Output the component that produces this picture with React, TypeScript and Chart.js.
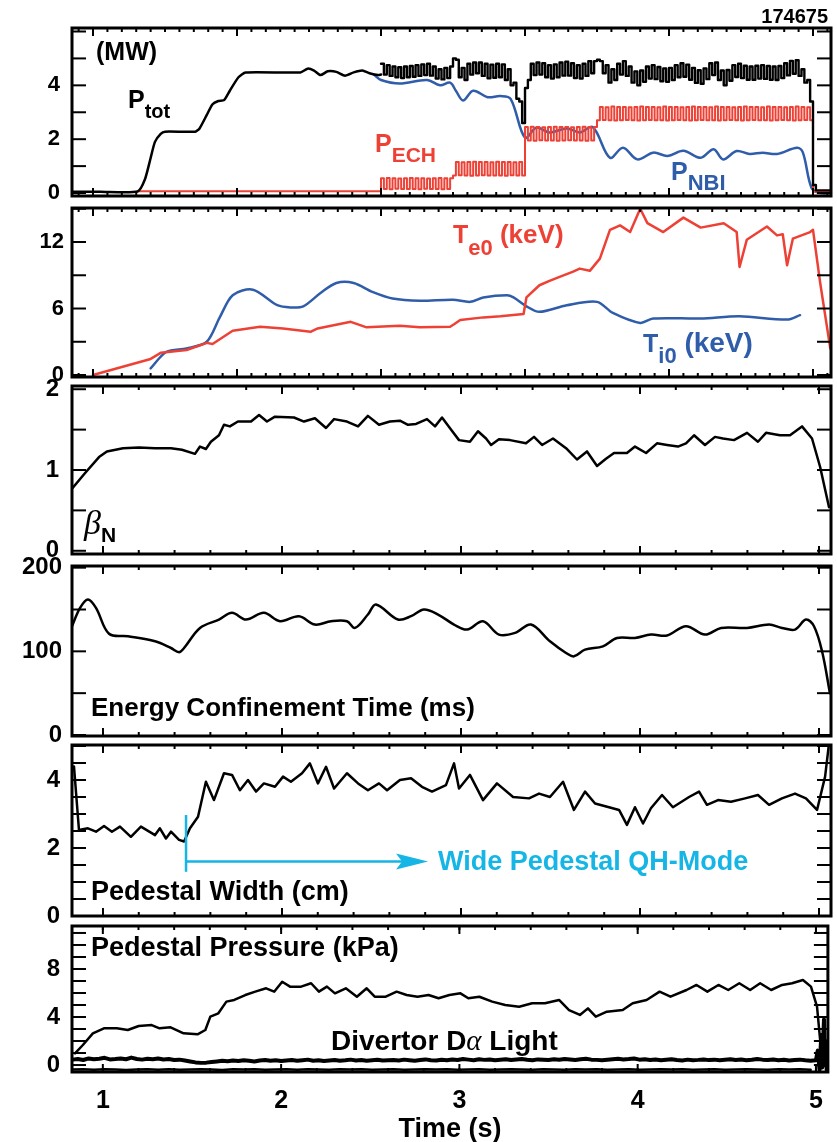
import React, { useEffect, useRef } from "react";
import { Chart, registerables } from "chart.js";
Chart.register(...registerables);

const SANS = "'Liberation Sans', Arial, Helvetica, sans-serif";
const SERIF = "'Liberation Serif', 'Times New Roman', serif";
const BLACK = "#000000";
const RED = "#EE4136";
const BLUE = "#2F5DAA";
const CYAN = "#15B5E5";

// ---------------- Panel 1 : powers (MW), time axis of the upper plot ----------------
const PTOT_PRE_T = [-0.14, 0.05, 0.31, 0.36, 0.40, 0.43, 0.47, 0.50, 0.71, 0.74, 0.79, 0.83, 0.87, 0.91, 0.95, 1.01, 1.06, 1.44, 1.49, 1.535, 1.58, 1.63, 1.69, 1.75, 1.81, 1.87, 1.92, 1.98, 2.0];
const PTOT_PRE = [0.05, 0.05, 0.06, 0.5, 1.3, 1.9, 2.2, 2.28, 2.28, 2.4, 2.9, 3.3, 3.42, 3.45, 3.8, 4.3, 4.48, 4.48, 4.62, 4.55, 4.38, 4.52, 4.5, 4.36, 4.48, 4.55, 4.45, 4.38, 4.4];
// modulated part (ECH square-wave modulation), sampled every MOD_DT from MOD_T0
const MOD_T0 = 2.0;
const MOD_DT = 0.02;
const PTOT_MOD = [
  4.8, 4.4, 4.75, 4.35, 4.7, 4.3, 4.67, 4.27, 4.7, 4.3, 4.72, 4.32, 4.75, 4.35, 4.78, 4.38, 4.8, 4.36, 4.7, 4.25, 4.6, 4.22, 4.65, 4.27, 4.7,
  5.0, 4.95, 4.3, 4.65, 4.2, 4.8, 4.4, 4.85, 4.45, 4.85, 4.35, 4.8, 4.26, 4.77, 4.28, 4.8, 4.3, 4.78, 4.2, 4.6, 4.0, 4.1, 3.5, 3.4, 2.6,
  3.9, 4.2, 4.8, 4.38, 4.85, 4.4, 4.82, 4.3, 4.75, 4.25, 4.78, 4.3, 4.85, 4.36, 4.88, 4.36, 4.82, 4.27, 4.75, 4.25, 4.8, 4.35, 4.9, 4.45, 4.9,
  4.95, 4.9, 4.45, 4.75, 4.1, 4.6, 4.2, 4.8, 4.4, 4.9, 4.35, 4.7, 4.1, 4.52, 4.0, 4.55, 4.13, 4.7, 4.25, 4.75, 4.23, 4.68, 4.15, 4.63, 4.13,
  4.65, 4.2, 4.75, 4.3, 4.82, 4.32, 4.77, 4.21, 4.65, 4.09, 4.56, 4.06, 4.63, 4.23, 4.82, 4.38, 4.85, 4.2, 4.55, 4.0, 4.57, 4.17, 4.75, 4.31, 4.8,
  4.27, 4.73, 4.21, 4.7, 4.21, 4.73, 4.25, 4.75, 4.24, 4.72, 4.21, 4.7, 4.2, 4.72, 4.27, 4.82, 4.37, 4.91, 4.43, 4.93, 4.35, 4.6, 4.1, 4.2, 3.4,
];
const PTOT_END_T = [5.0, 5.02, 5.125];
const PTOT_END = [0.3, 0.1, 0.1];

const ECH_PRE_T = [0.31];
const ECH_PRE = [0.07];
const ECH_MOD = [
  0.55, 0.15, 0.56, 0.14, 0.55, 0.16, 0.54, 0.15, 0.55, 0.15, 0.56, 0.15, 0.55, 0.14, 0.55, 0.16, 0.54, 0.15, 0.55, 0.15, 0.56, 0.14, 0.55, 0.15, 0.55,
  0.65, 1.15, 0.66, 1.14, 0.65, 1.15, 0.64, 1.16, 0.65, 1.15, 0.66, 1.15, 0.65, 1.14, 0.65, 1.16, 0.65, 1.15, 0.64, 1.15, 0.66, 1.14, 0.65, 1.15, 0.65,
  2.45, 1.95, 2.46, 1.94, 2.45, 1.96, 2.44, 1.95, 2.45, 1.95, 2.46, 1.94, 2.45, 1.95, 2.45, 1.96, 2.44, 1.95, 2.45, 1.95, 2.46, 1.94, 2.45, 1.95, 2.45,
  2.70, 3.20, 2.71, 3.19, 2.70, 3.21, 2.69, 3.20, 2.70, 3.20,
  2.71, 3.19, 2.70, 3.20, 2.69, 3.21, 2.70, 3.20, 2.71, 3.20,
  2.70, 3.19, 2.70, 3.21, 2.69, 3.20, 2.70, 3.20, 2.71, 3.19,
  2.70, 3.20, 2.69, 3.21, 2.70, 3.20, 2.71, 3.20, 2.70, 3.19,
  2.70, 3.21, 2.69, 3.20, 2.70, 3.20, 2.71, 3.19, 2.70, 3.20,
  2.69, 3.21, 2.70, 3.20, 2.71, 3.20, 2.70, 3.19, 2.70, 3.21,
  2.69, 3.20, 2.70, 3.20, 2.71, 3.19, 2.70, 3.20, 2.69, 3.21,
  2.70, 3.20, 2.71, 3.19, 2.70,
];
const ECH_END_T = [5.0, 5.125];
const ECH_END = [0.05, 0.05];

const PNBI_T = [1.95, 2.0, 2.13, 2.32, 2.41, 2.48, 2.52, 2.57, 2.64, 2.74, 2.83, 2.9, 3.0, 3.08, 3.17, 3.29, 3.38, 3.47, 3.59, 3.68, 3.78, 3.89, 3.99, 4.1, 4.22, 4.31, 4.375, 4.47, 4.56, 4.65, 4.75, 4.89, 4.93, 4.99, 5.05, 5.125];
const PNBI = [4.4, 4.2, 4.07, 4.2, 4.0, 4.1, 3.8, 3.44, 3.8, 3.56, 3.6, 3.5, 2.06, 2.43, 2.25, 2.4, 2.25, 2.45, 1.31, 1.68, 1.25, 1.5, 1.38, 1.57, 1.31, 1.63, 1.25, 1.56, 1.45, 1.5, 1.45, 1.68, 1.5, 0.19, 0.0, 0.0];

// ---------------- Panel 2 : central temperatures (keV) ----------------
const TE_T = [0.0, 0.40, 0.47, 0.65, 0.79, 0.83, 0.97, 1.16, 1.32, 1.51, 1.56, 1.79, 1.90, 2.13, 2.27, 2.48, 2.51, 2.55, 2.71, 2.83, 2.90, 2.99, 3.01, 3.10, 3.17, 3.24, 3.33, 3.38, 3.45, 3.52, 3.59, 3.66, 3.73, 3.80, 3.85, 3.96, 4.10, 4.22, 4.38, 4.47, 4.49, 4.54, 4.68, 4.75, 4.79, 4.82, 4.86, 4.98, 5.0, 5.05, 5.12];
const TE = [0.0, 1.45, 2.0, 2.26, 2.9, 2.8, 4.0, 4.35, 4.2, 3.9, 4.2, 4.8, 4.3, 4.45, 4.3, 4.35, 4.6, 4.96, 5.2, 5.3, 5.4, 5.5, 7.0, 8.1, 8.5, 8.85, 9.3, 9.6, 9.4, 10.5, 13.1, 13.5, 12.9, 15.0, 13.7, 12.9, 14.2, 13.3, 13.7, 12.9, 9.75, 12.2, 13.4, 12.6, 12.7, 9.9, 12.3, 12.9, 13.1, 8.3, 2.4];
const TI_T = [0.40, 0.51, 0.65, 0.79, 0.88, 0.97, 1.11, 1.28, 1.37, 1.46, 1.58, 1.69, 1.81, 1.94, 2.08, 2.27, 2.5, 2.62, 2.71, 2.875, 2.92, 3.01, 3.10, 3.29, 3.5, 3.61, 3.80, 3.89, 4.22, 4.49, 4.82, 4.91];
const TI = [0.6, 2.1, 2.4, 3.0, 5.2, 7.2, 7.7, 6.3, 6.1, 6.2, 7.4, 8.3, 8.3, 7.5, 6.9, 6.7, 6.8, 6.6, 7.0, 7.2, 7.0, 6.2, 5.7, 6.3, 6.6, 5.6, 4.7, 5.1, 5.1, 5.3, 5.0, 5.4];

// ---------------- Panel 3 : beta_N ----------------
const BETA_T = [0.827, 0.899, 0.978, 1.022, 1.112, 1.201, 1.291, 1.380, 1.441, 1.514, 1.542, 1.575, 1.603, 1.648, 1.676, 1.709, 1.754, 1.827, 1.872, 1.916, 1.961, 2.067, 2.123, 2.184, 2.246, 2.291, 2.363, 2.425, 2.480, 2.542, 2.603, 2.659, 2.704, 2.749, 2.810, 2.855, 2.894, 2.944, 2.989, 3.050, 3.095, 3.140, 3.168, 3.212, 3.274, 3.363, 3.408, 3.453, 3.514, 3.587, 3.648, 3.704, 3.760, 3.810, 3.855, 3.927, 3.972, 4.034, 4.095, 4.151, 4.212, 4.257, 4.302, 4.363, 4.419, 4.464, 4.525, 4.598, 4.659, 4.704, 4.782, 4.838, 4.905, 4.961, 5.006, 5.056];
const BETA = [0.77, 0.96, 1.16, 1.23, 1.27, 1.28, 1.27, 1.27, 1.25, 1.20, 1.29, 1.26, 1.35, 1.43, 1.56, 1.54, 1.60, 1.60, 1.68, 1.60, 1.66, 1.65, 1.60, 1.64, 1.52, 1.63, 1.60, 1.54, 1.67, 1.56, 1.60, 1.61, 1.56, 1.57, 1.63, 1.54, 1.65, 1.50, 1.37, 1.35, 1.48, 1.39, 1.31, 1.38, 1.37, 1.33, 1.41, 1.31, 1.39, 1.27, 1.13, 1.23, 1.05, 1.14, 1.21, 1.21, 1.29, 1.21, 1.33, 1.31, 1.29, 1.33, 1.43, 1.31, 1.41, 1.39, 1.37, 1.46, 1.35, 1.46, 1.43, 1.43, 1.54, 1.39, 1.04, 0.54];

// ---------------- Panel 4 : energy confinement time (ms) ----------------
const TAU_T = [0.827, 0.872, 0.916, 0.961, 1.034, 1.140, 1.291, 1.380, 1.425, 1.453, 1.542, 1.648, 1.721, 1.799, 1.899, 1.989, 2.095, 2.184, 2.274, 2.363, 2.408, 2.480, 2.525, 2.648, 2.721, 2.793, 2.872, 2.961, 3.034, 3.123, 3.212, 3.302, 3.391, 3.497, 3.587, 3.631, 3.693, 3.793, 3.872, 3.972, 4.061, 4.151, 4.257, 4.363, 4.453, 4.598, 4.721, 4.793, 4.866, 4.927, 4.972, 5.017, 5.061];
const TAU = [130, 152, 162, 152, 121, 118, 112, 104, 99, 104, 128, 138, 146, 138, 146, 136, 142, 132, 136, 136, 128, 144, 156, 138, 142, 150, 144, 132, 126, 136, 120, 122, 132, 112, 98, 94, 102, 106, 116, 116, 120, 119, 130, 120, 128, 128, 132, 128, 126, 138, 130, 100, 50];

// ---------------- Panel 5 : pedestal width (cm) ----------------
const PW_T = [0.838, 0.866, 0.916, 0.961, 1.006, 1.050, 1.095, 1.156, 1.212, 1.291, 1.318, 1.352, 1.380, 1.425, 1.453, 1.486, 1.531, 1.575, 1.620, 1.676, 1.721, 1.765, 1.810, 1.855, 1.899, 1.961, 2.006, 2.050, 2.112, 2.156, 2.201, 2.246, 2.291, 2.363, 2.425, 2.480, 2.542, 2.587, 2.659, 2.721, 2.782, 2.838, 2.916, 2.961, 2.989, 3.050, 3.123, 3.201, 3.291, 3.380, 3.436, 3.497, 3.570, 3.631, 3.693, 3.749, 3.827, 3.883, 3.927, 3.972, 4.017, 4.061, 4.123, 4.184, 4.274, 4.330, 4.374, 4.436, 4.508, 4.587, 4.659, 4.721, 4.793, 4.866, 4.927, 4.989, 5.034, 5.061];
const PW = [4.4, 2.53, 2.58, 2.48, 2.65, 2.48, 2.63, 2.33, 2.63, 2.38, 2.58, 2.28, 2.48, 2.24, 2.19, 2.58, 2.92, 3.95, 3.41, 4.2, 4.15, 3.7, 4.0, 3.66, 3.9, 3.8, 4.1, 3.95, 4.2, 4.49, 3.9, 4.39, 3.75, 4.2, 3.9, 3.7, 3.9, 3.7, 4.0, 4.05, 3.8, 3.66, 3.85, 4.49, 3.75, 4.15, 3.41, 3.9, 3.5, 3.46, 3.6, 3.5, 3.95, 3.12, 3.66, 3.31, 3.2, 3.12, 2.68, 3.2, 2.72, 3.17, 3.56, 3.2, 3.5, 3.66, 3.27, 3.41, 3.36, 3.46, 3.56, 3.27, 3.46, 3.6, 3.46, 3.12, 4.1, 5.3];
const QH_START = 1.464;
const QH_BAR = [1.3, 2.97];
const QH_ARROW_Y = 1.6;
const QH_ARROW_END = 2.816;

// ---------------- Panel 6 : pedestal pressure (kPa) and divertor D-alpha ----------------
const PP_T = [0.844, 0.888, 0.944, 1.006, 1.078, 1.140, 1.201, 1.274, 1.318, 1.380, 1.453, 1.531, 1.575, 1.603, 1.648, 1.693, 1.737, 1.799, 1.855, 1.916, 1.961, 2.006, 2.050, 2.112, 2.168, 2.212, 2.257, 2.302, 2.363, 2.425, 2.480, 2.525, 2.587, 2.648, 2.704, 2.765, 2.827, 2.883, 2.944, 3.006, 3.050, 3.112, 3.184, 3.257, 3.335, 3.408, 3.480, 3.559, 3.615, 3.676, 3.721, 3.765, 3.827, 3.916, 3.972, 4.050, 4.123, 4.184, 4.274, 4.330, 4.391, 4.453, 4.508, 4.570, 4.631, 4.687, 4.749, 4.810, 4.866, 4.927, 4.972, 5.006, 5.034];
const PP = [0.97, 1.67, 2.64, 3.06, 3.06, 2.92, 3.25, 3.33, 3.06, 3.14, 2.64, 2.56, 2.92, 4.03, 4.31, 5.28, 5.42, 5.83, 6.11, 6.39, 6.11, 6.94, 6.53, 6.53, 6.81, 6.11, 6.53, 5.97, 6.39, 5.69, 6.39, 5.69, 5.69, 6.11, 5.83, 5.69, 5.83, 5.56, 5.83, 5.97, 5.56, 5.69, 5.28, 5.0, 4.86, 5.14, 5.14, 5.42, 4.58, 4.17, 4.72, 4.03, 4.44, 4.58, 5.14, 5.42, 6.11, 5.69, 6.25, 6.67, 6.11, 6.67, 6.25, 6.81, 6.25, 6.81, 6.25, 6.67, 6.81, 7.08, 6.53, 4.86, 0.42];
// D-alpha: upper and lower edges of the dense noisy trace
const DA_T0 = 0.83;
const DA_UP_DT = 0.03;
const DA_UP = [
  0.45, 0.5, 0.42, 0.55, 0.48, 0.52, 0.6, 0.47, 0.5, 0.55,
  0.48, 0.62, 0.5, 0.45, 0.52, 0.48, 0.55, 0.46, 0.5, 0.42,
  0.45, 0.38, 0.3, 0.22, 0.18, 0.2, 0.25, 0.3, 0.35, 0.32,
  0.38, 0.33, 0.4, 0.35, 0.3, 0.38, 0.42, 0.35, 0.4, 0.33,
  0.38, 0.42, 0.35, 0.4, 0.45, 0.36, 0.4, 0.33, 0.38, 0.42,
  0.36, 0.4, 0.45, 0.38, 0.42, 0.35, 0.4, 0.44, 0.37, 0.4,
  0.42, 0.38, 0.45, 0.4, 0.35, 0.42, 0.47, 0.4, 0.38, 0.44,
  0.4, 0.46, 0.42, 0.5, 0.45, 0.4, 0.48, 0.43, 0.46, 0.4,
  0.44, 0.48, 0.42, 0.46, 0.5, 0.44, 0.4, 0.47, 0.45, 0.42,
  0.48, 0.44, 0.5, 0.46, 0.42, 0.48, 0.52, 0.45, 0.43, 0.4,
  0.44, 0.48, 0.52, 0.46, 0.5, 0.55, 0.45, 0.48, 0.42, 0.46,
  0.4, 0.44, 0.48, 0.42, 0.38, 0.45, 0.4, 0.43, 0.47, 0.41,
  0.45, 0.4, 0.44, 0.48, 0.42, 0.46, 0.4, 0.44, 0.5, 0.45,
  0.42, 0.46, 0.4, 0.44, 0.38, 0.42, 0.45, 0.4, 0.36, 0.4,
];
const DA_END_T = [5.01, 5.02, 5.03, 5.035, 5.045, 5.05, 5.055, 5.06, 5.067];
const DA_END = [1.2, -0.4, 2.5, -0.2, 3.8, 0.0, 2.0, -0.4, 0.3];
const DA_LO_DT = 0.06;
const DA_LO = [
  -0.38, -0.35, -0.4, -0.36, -0.38, -0.42, -0.37, -0.35, -0.39, -0.36,
  -0.4, -0.37, -0.35, -0.38, -0.41, -0.36, -0.38, -0.35, -0.4, -0.37,
  -0.36, -0.39, -0.35, -0.38, -0.4, -0.36, -0.37, -0.35, -0.39, -0.38,
  -0.36, -0.4, -0.37, -0.35, -0.38, -0.36, -0.39, -0.37, -0.35, -0.4,
  -0.38, -0.36, -0.37, -0.39, -0.35, -0.38, -0.4, -0.36, -0.37, -0.35,
  -0.39, -0.38, -0.36, -0.4, -0.37, -0.35, -0.38, -0.36, -0.39, -0.37,
  -0.35, -0.4, -0.38, -0.36, -0.37, -0.39, -0.35, -0.38, -0.36, -0.4,
];

// ---------------- axis ranges / labels ----------------
const TOP_X_MIN = -0.146, TOP_X_MAX = 5.125;
const BOT_X_MIN = 0.827, BOT_X_MAX = 5.067;
const X_LABELS = [1, 2, 3, 4, 5];

// ---------------- helpers ----------------
const pts = (t: number[], v: number[]) => t.map((x, i) => ({ x, y: v[i] }));
const grid = (t0: number, dt: number, v: number[]) => v.map((y, i) => ({ x: Math.round((t0 + dt * i) * 10000) / 10000, y }));
const range = (a: number, b: number, s: number) => {
  const out: number[] = [];
  for (let v = a; v <= b + 1e-9; v += s) out.push(Math.round(v * 1000) / 1000);
  return out;
};
const bold = (n: number) => `bold ${n}px ${SANS}`;

type Seg = { s: string; font: string; dy?: number };
type Label = { x: number; y: number; color?: string; align?: "left" | "right"; segs: Seg[] };

type PanelCfg = {
  top: number;
  bottom: number;
  cTop: number;
  cBottom: number;
  xMin: number;
  xMax: number;
  yMin: number;
  yMax: number;
  yTicks: number[];
  yLabels: number[];
  yFont: number;
  yPad: number;
  xMajor: number[];
  xMinor: number[];
  showX: boolean;
  datasets: any[];
  labels: Label[];
  extra?: (chart: any, ctx: CanvasRenderingContext2D) => void;
};

const LEFT = 72;
const RIGHT = 831;
const W = 837;

function line(ctx: CanvasRenderingContext2D, x1: number, y1: number, x2: number, y2: number) {
  ctx.beginPath();
  ctx.moveTo(x1, y1);
  ctx.lineTo(x2, y2);
  ctx.stroke();
}

function makeFrame(cfg: PanelCfg) {
  return {
    id: "frame",
    afterDraw(chart: any) {
      const ctx: CanvasRenderingContext2D = chart.ctx;
      const a = chart.chartArea;
      const xs = chart.scales.x;
      const ys = chart.scales.y;
      ctx.save();
      if (cfg.extra) cfg.extra(chart, ctx);
      ctx.strokeStyle = BLACK;
      ctx.lineWidth = 2;
      ctx.lineCap = "butt";
      for (const v of cfg.yTicks) {
        const py = ys.getPixelForValue(v);
        line(ctx, a.left, py, a.left + 14, py);
        line(ctx, a.right, py, a.right - 14, py);
      }
      for (const v of cfg.xMajor) {
        const px = xs.getPixelForValue(v);
        if (px < a.left || px > a.right) continue;
        line(ctx, px, a.top, px, a.top + 8);
        line(ctx, px, a.bottom, px, a.bottom - 8);
      }
      for (const v of cfg.xMinor) {
        const px = xs.getPixelForValue(v);
        if (px < a.left + 2 || px > a.right - 2) continue;
        line(ctx, px, a.top, px, a.top + 4);
        line(ctx, px, a.bottom, px, a.bottom - 4);
      }
      ctx.lineWidth = 3;
      ctx.strokeRect(a.left, a.top, a.right - a.left, a.bottom - a.top);
      for (const lb of cfg.labels) {
        ctx.fillStyle = lb.color || BLACK;
        ctx.textBaseline = "alphabetic";
        ctx.textAlign = "left";
        let total = 0;
        for (const sg of lb.segs) {
          ctx.font = sg.font;
          total += ctx.measureText(sg.s).width;
        }
        let x = lb.align === "right" ? lb.x - total : lb.x;
        const y = lb.y - cfg.cTop;
        for (const sg of lb.segs) {
          ctx.font = sg.font;
          ctx.fillText(sg.s, x, y + (sg.dy || 0));
          x += ctx.measureText(sg.s).width;
        }
      }
      ctx.restore();
    },
  };
}

function Panel({ cfg }: { cfg: PanelCfg }) {
  const ref = useRef<HTMLCanvasElement>(null);
  useEffect(() => {
    const canvas = ref.current!;
    const chart = new Chart(canvas, {
      type: "line",
      data: { datasets: cfg.datasets },
      options: {
        animation: false,
        responsive: false,
        maintainAspectRatio: false,
        devicePixelRatio: 1,
        events: [],
        layout: {
          padding: {
            left: 0,
            right: W - RIGHT,
            top: cfg.top - cfg.cTop,
            bottom: cfg.showX ? 0 : cfg.cBottom - cfg.bottom,
          },
        },
        plugins: { legend: { display: false }, tooltip: { enabled: false } },
        elements: { point: { radius: 0 }, line: { borderJoinStyle: "round", borderCapStyle: "round" } },
        scales: {
          x: {
            type: "linear",
            min: cfg.xMin,
            max: cfg.xMax,
            bounds: "data",
            display: cfg.showX,
            position: "bottom",
            grid: { display: false, drawTicks: false },
            border: { display: false },
            afterFit: (s: any) => {
              if (cfg.showX) s.height = cfg.cBottom - cfg.bottom;
            },
            afterBuildTicks: (s: any) => {
              s.ticks = X_LABELS.map((v) => ({ value: v }));
            },
            ticks: {
              font: { family: SANS, size: 25, weight: "bold" },
              color: BLACK,
              padding: 14,
              maxRotation: 0,
              autoSkip: false,
            },
            title: {
              display: cfg.showX,
              text: "Time (s)",
              color: BLACK,
              font: { family: SANS, size: 27, weight: "bold" },
              padding: { top: 0, bottom: -4 },
            },
          },
          y: {
            type: "linear",
            min: cfg.yMin,
            max: cfg.yMax,
            bounds: "data",
            position: "left",
            grid: {
              display: true,
              drawOnChartArea: false,
              drawTicks: true,
              tickLength: cfg.yPad,
              tickColor: "rgba(0,0,0,0)",
              color: "rgba(0,0,0,0)",
              lineWidth: 0,
            },
            border: { display: false },
            afterFit: (s: any) => {
              s.width = LEFT;
            },
            afterBuildTicks: (s: any) => {
              s.ticks = cfg.yLabels.map((v) => ({ value: v }));
            },
            ticks: {
              font: { family: SANS, size: cfg.yFont, weight: "bold" },
              color: BLACK,
              padding: 0,
              autoSkip: false,
            },
          },
        },
      },
      plugins: [makeFrame(cfg)],
    } as any);
    return () => chart.destroy();
  }, [cfg]);
  const h = cfg.cBottom - cfg.cTop;
  return (
    <canvas
      ref={ref}
      width={W}
      height={h}
      style={{ position: "absolute", left: 0, top: cfg.cTop, width: W, height: h }}
    />
  );
}

const ds = (data: any[], color: string, order: number, extra: any = {}) => ({
  data,
  borderColor: color,
  backgroundColor: color,
  borderWidth: 2.5,
  pointRadius: 0,
  fill: false,
  order,
  tension: 0,
  ...extra,
});

const TOP_MAJOR = range(0, 5, 1);
const TOP_MINOR = range(-0.1, 5.1, 0.1);
const BOT_MAJOR = range(1, 5, 1);
const BOT_MINOR = range(0.8, 5.0, 0.2);

const PANELS: PanelCfg[] = [
  {
    top: 28, bottom: 196, cTop: 0, cBottom: 216,
    xMin: TOP_X_MIN, xMax: TOP_X_MAX, yMin: -0.11, yMax: 6.13,
    yTicks: [0, 1, 2, 3, 4, 5, 6], yLabels: [0, 2, 4], yFont: 22, yPad: 12,
    xMajor: TOP_MAJOR, xMinor: TOP_MINOR, showX: false,
    datasets: [
      ds(pts(PNBI_T, PNBI), BLUE, 2, { tension: 0.35 }),
      ds([...pts(ECH_PRE_T, ECH_PRE), ...grid(MOD_T0, MOD_DT, ECH_MOD), ...pts(ECH_END_T, ECH_END)], RED, 1, { stepped: true, borderWidth: 2 }),
      ds(pts(PTOT_PRE_T, PTOT_PRE), BLACK, 0, { tension: 0.2 }),
      ds([...grid(MOD_T0, MOD_DT, PTOT_MOD), ...pts(PTOT_END_T, PTOT_END)], BLACK, 0, { stepped: true, borderWidth: 2.4 }),
    ],
    labels: [
      { x: 828, y: 23, align: "right", segs: [{ s: "174675", font: bold(20) }] },
      { x: 96, y: 60, segs: [{ s: "(MW)", font: bold(25) }] },
      { x: 128, y: 108, segs: [{ s: "P", font: bold(25) }, { s: "tot", font: bold(20), dy: 10 }] },
      { x: 375, y: 152, color: RED, segs: [{ s: "P", font: bold(25) }, { s: "ECH", font: bold(21), dy: 10 }] },
      { x: 671, y: 180, color: BLUE, segs: [{ s: "P", font: bold(25) }, { s: "NBI", font: bold(22), dy: 10 }] },
    ],
  },
  {
    top: 208, bottom: 377, cTop: 188, cBottom: 397,
    xMin: TOP_X_MIN, xMax: TOP_X_MAX, yMin: -0.18, yMax: 15.07,
    yTicks: [0, 3, 6, 9, 12, 15], yLabels: [0, 6, 12], yFont: 22, yPad: 8,
    xMajor: TOP_MAJOR, xMinor: TOP_MINOR, showX: false,
    datasets: [
      ds(pts(TE_T, TE), RED, 0),
      ds(pts(TI_T, TI), BLUE, 1, { tension: 0.3 }),
    ],
    labels: [
      { x: 453, y: 243, color: RED, segs: [{ s: "T", font: bold(25) }, { s: "e0", font: bold(22), dy: 12 }, { s: " (keV)", font: bold(26) }] },
      { x: 643, y: 352, color: BLUE, segs: [{ s: "T", font: bold(25) }, { s: "i0", font: bold(22), dy: 11 }, { s: " (keV)", font: bold(28) }] },
    ],
  },
  {
    top: 386, bottom: 554, cTop: 366, cBottom: 574,
    xMin: BOT_X_MIN, xMax: BOT_X_MAX, yMin: -0.04, yMax: 2.04,
    yTicks: [0, 0.5, 1, 1.5, 2], yLabels: [0, 1, 2], yFont: 24, yPad: 13,
    xMajor: BOT_MAJOR, xMinor: BOT_MINOR, showX: false,
    datasets: [ds(pts(BETA_T, BETA), BLACK, 0)],
    labels: [
      { x: 84, y: 534, segs: [{ s: "β", font: `italic 34px ${SERIF}` }, { s: "N", font: bold(21), dy: 8 }] },
    ],
  },
  {
    top: 566, bottom: 736, cTop: 546, cBottom: 756,
    xMin: BOT_X_MIN, xMax: BOT_X_MAX, yMin: -1.2, yMax: 202,
    yTicks: [0, 50, 100, 150, 200], yLabels: [0, 100, 200], yFont: 24, yPad: 10,
    xMajor: BOT_MAJOR, xMinor: BOT_MINOR, showX: false,
    datasets: [ds(pts(TAU_T, TAU), BLACK, 0, { tension: 0.35 })],
    labels: [{ x: 91, y: 716, segs: [{ s: "Energy Confinement Time (ms)", font: bold(26) }] }],
  },
  {
    top: 745, bottom: 916, cTop: 725, cBottom: 936,
    xMin: BOT_X_MIN, xMax: BOT_X_MAX, yMin: 0, yMax: 5.03,
    yTicks: range(0, 5, 0.5), yLabels: [0, 2, 4], yFont: 24, yPad: 12,
    xMajor: BOT_MAJOR, xMinor: BOT_MINOR, showX: false,
    datasets: [ds(pts(PW_T, PW), BLACK, 0)],
    labels: [
      { x: 91, y: 900, segs: [{ s: "Pedestal Width (cm)", font: bold(27) }] },
      { x: 438, y: 870, color: CYAN, segs: [{ s: "Wide Pedestal QH-Mode", font: bold(27) }] },
    ],
    extra: (chart, ctx) => {
      const xs = chart.scales.x;
      const ys = chart.scales.y;
      const x0 = xs.getPixelForValue(QH_START);
      const x1 = xs.getPixelForValue(QH_ARROW_END);
      const ya = ys.getPixelForValue(QH_ARROW_Y);
      ctx.strokeStyle = CYAN;
      ctx.fillStyle = CYAN;
      ctx.lineWidth = 2.5;
      line(ctx, x0, ys.getPixelForValue(QH_BAR[1]), x0, ys.getPixelForValue(QH_BAR[0]));
      line(ctx, x0, ya, x1 - 20, ya);
      ctx.beginPath();
      ctx.moveTo(x1, ya);
      ctx.lineTo(x1 - 32, ya - 8);
      ctx.lineTo(x1 - 26, ya);
      ctx.lineTo(x1 - 32, ya + 8);
      ctx.closePath();
      ctx.fill();
    },
  },
  {
    top: 926, bottom: 1072, cTop: 906, cBottom: 1142,
    xMin: BOT_X_MIN, xMax: BOT_X_MAX, yMin: -0.58, yMax: 11.58,
    yTicks: range(0, 11, 1), yLabels: [0, 4, 8], yFont: 24, yPad: 12,
    xMajor: BOT_MAJOR, xMinor: BOT_MINOR, showX: true,
    datasets: [
      ds([...grid(DA_T0, DA_UP_DT, DA_UP), ...pts(DA_END_T, DA_END)], BLACK, 1, { borderWidth: 4 }),
      ds(grid(DA_T0, DA_LO_DT, DA_LO), BLACK, 2, { borderWidth: 2.5 }),
      ds(pts(PP_T, PP), BLACK, 0),
    ],
    labels: [
      { x: 91, y: 956, segs: [{ s: "Pedestal Pressure (kPa)", font: bold(27) }] },
      {
        x: 331, y: 1050,
        segs: [
          { s: "Divertor D", font: bold(28) },
          { s: "α", font: `italic 29px ${SERIF}` },
          { s: " Light", font: bold(28) },
        ],
      },
    ],
  },
];

export default function App() {
  return (
    <div style={{ position: "absolute", left: 0, top: 0, width: W, height: 1142, background: "#fff" }}>
      {PANELS.map((p, i) => (
        <Panel key={i} cfg={p} />
      ))}
    </div>
  );
}
